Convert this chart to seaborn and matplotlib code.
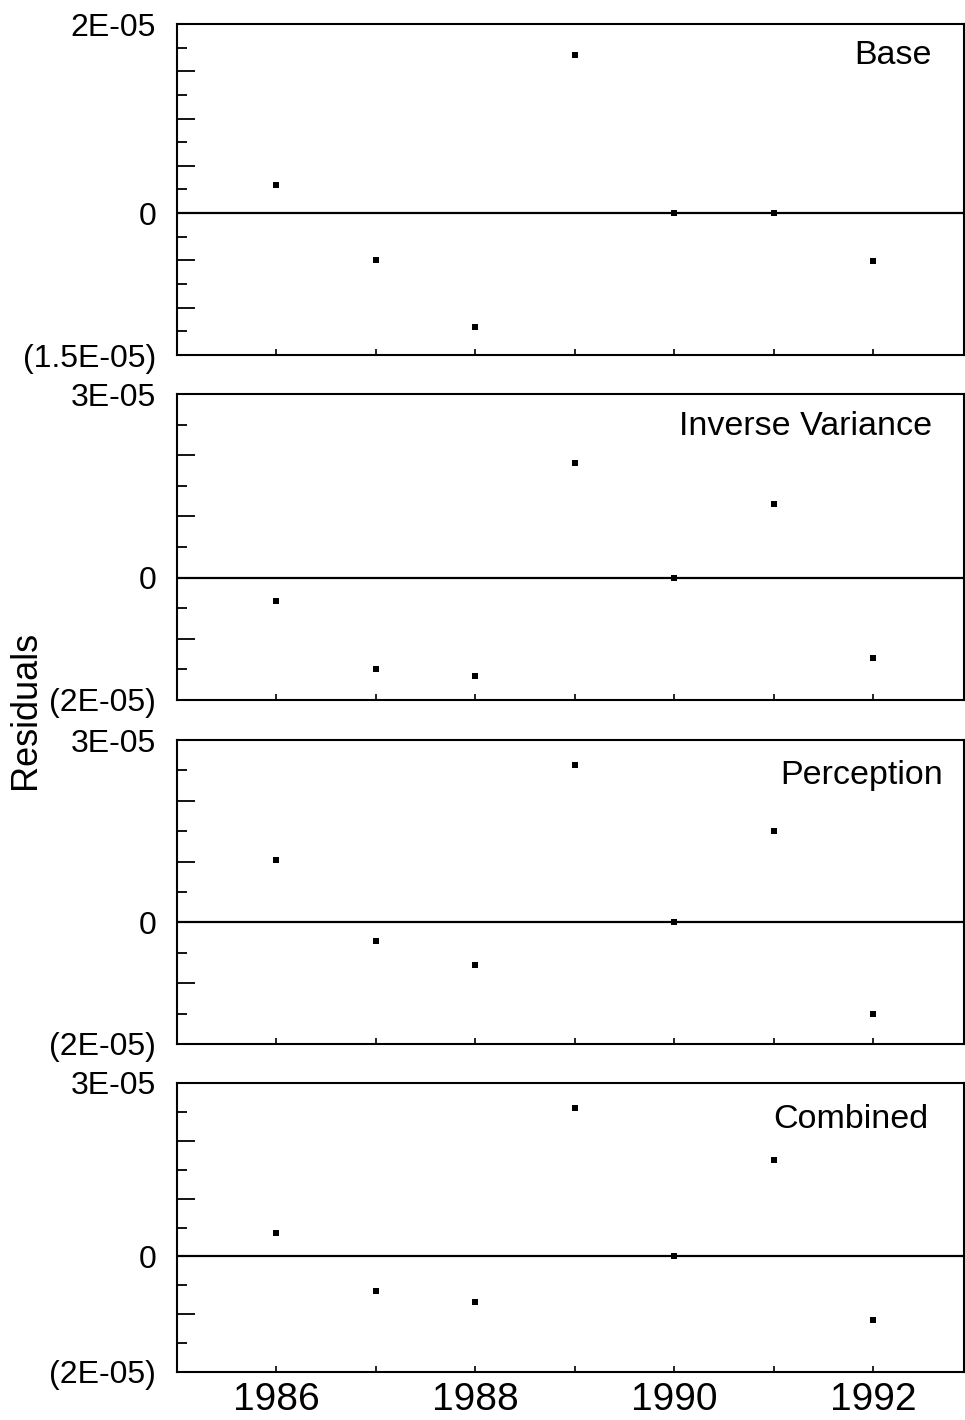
import numpy as np
import pandas as pd
import matplotlib
matplotlib.use("Agg")
import matplotlib.pyplot as plt
import seaborn as sns

years = [1986, 1987, 1988, 1989, 1990, 1991, 1992]
base = [3.0e-6, -5.0e-6, -1.2e-5, 1.67e-5, 0.0, 0.0, -5.1e-6]
inv_var = [-3.9e-6, -1.49e-5, -1.6e-5, 1.88e-5, 0.0, 1.2e-5, -1.31e-5]
perception = [1.02e-5, -3.0e-6, -7.0e-6, 2.59e-5, 0.0, 1.51e-5, -1.51e-5]
combined = [4.0e-6, -5.9e-6, -7.9e-6, 2.57e-5, 0.0, 1.67e-5, -1.1e-5]

panel_names = ["Base", "Inverse Variance", "Perception", "Combined"]
panel_values = [base, inv_var, perception, combined]
ylims = [(-1.5e-5, 2e-5), (-2e-5, 3e-5), (-2e-5, 3e-5), (-2e-5, 3e-5)]
ytop_labels = ["2E-05", "3E-05", "3E-05", "3E-05"]
ybot_labels = ["(1.5E-05)", "(2E-05)", "(2E-05)", "(2E-05)"]
x_ticklabels = ["1986", "", "1988", "", "1990", "", "1992"]
ylabel = "Residuals"

sns.set_style("ticks")
plt.rcParams["font.family"] = ["Liberation Sans", "DejaVu Sans"]
plt.rcParams["text.color"] = "black"
plt.rcParams["xtick.color"] = "black"
plt.rcParams["ytick.color"] = "black"
plt.rcParams["axes.labelcolor"] = "black"

W, H = 965, 1420
fig = plt.figure(figsize=(W / 100, H / 100), dpi=100)

boxes = [(24, 355), (394, 700), (740, 1044), (1083, 1372)]
left_px, right_px = 177, 964
label_pos = [(932, 55), (932, 427), (943, 775), (928, 1120)]

for i, (name, vals, (ylo, yhi)) in enumerate(zip(panel_names, panel_values, ylims)):
    top, bot = boxes[i]
    ax = fig.add_axes([left_px / W, 1 - bot / H, (right_px - left_px) / W, (bot - top) / H])
    df = pd.DataFrame({"year": years, "resid": vals})
    ax.axhline(0, color="black", lw=1.6, zorder=1)
    sns.scatterplot(data=df, x="year", y="resid", ax=ax, color="black",
                    marker="s", s=14, edgecolor="black", linewidth=0, zorder=3)
    ax.set_xlim(1985.0, 1992.91)
    ax.set_ylim(ylo, yhi)
    if i == 0:
        step_major, step_minor = 5e-6, 2.5e-6
    else:
        step_major, step_minor = 1e-5, 5e-6
    majors = np.round(np.arange(ylo, yhi + step_major / 2, step_major), 12)
    minors = np.round(np.arange(ylo, yhi + step_minor / 2, step_minor), 12)
    minors = [m for m in minors if not np.any(np.isclose(m, majors, atol=1e-12))]
    labels = []
    for m in majors:
        if np.isclose(m, yhi):
            labels.append(ytop_labels[i])
        elif np.isclose(m, 0, atol=1e-12):
            labels.append("0")
        elif np.isclose(m, ylo):
            labels.append(ybot_labels[i])
        else:
            labels.append("")
    ax.set_yticks(majors)
    ax.set_yticklabels(labels)
    ax.set_yticks(minors, minor=True)
    ax.tick_params(axis="y", which="major", direction="in", length=13, width=1.3,
                   labelsize=23, pad=15, right=False, colors="black")
    ax.tick_params(axis="y", which="minor", direction="in", length=7, width=1.3,
                   right=False, colors="black")
    ax.set_xticks(years)
    if i == 3:
        ax.set_xticklabels(x_ticklabels)
    else:
        ax.set_xticklabels([])
    ax.tick_params(axis="x", which="major", direction="in", length=4, width=1.2,
                   labelsize=28, pad=7, colors="black")
    ax.set_xlabel("")
    ax.set_ylabel("")
    for sp in ax.spines.values():
        sp.set_visible(True)
        sp.set_linewidth(1.5)
        sp.set_color("black")
    lx, ly = label_pos[i]
    fig.text(lx / W, 1 - ly / H, name, ha="right", va="center", fontsize=24.5, color="black")

fig.text(25 / W, 1 - 710 / H, ylabel, rotation=90, ha="center", va="center",
         fontsize=26, color="black")

fig.savefig("out.png", dpi=100, facecolor="white")
